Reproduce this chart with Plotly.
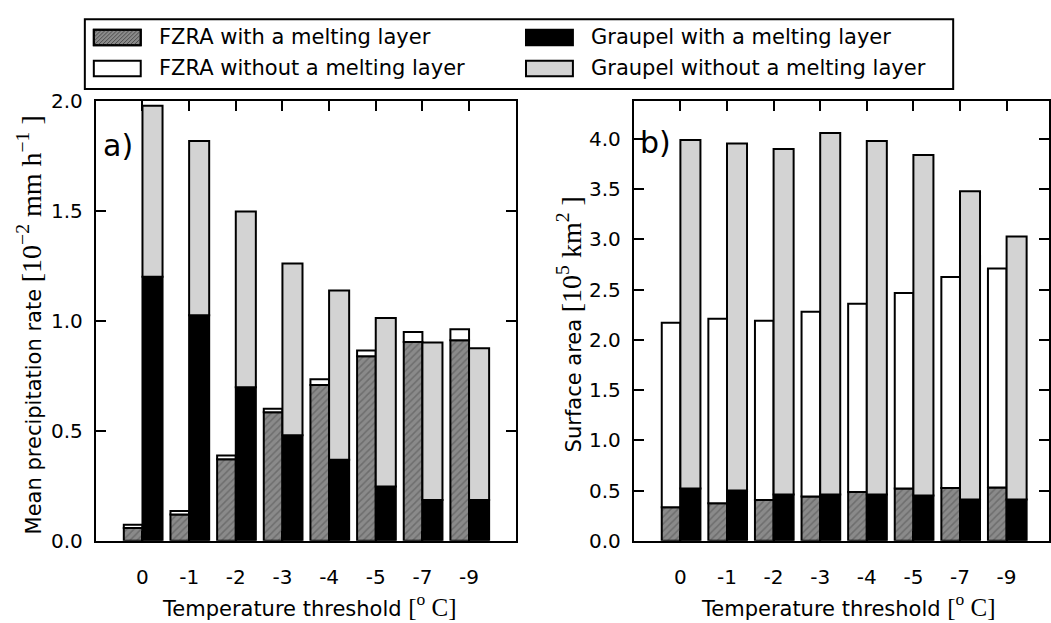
import plotly.graph_objects as go

# ---------------- data ----------------
categories = ['0', '-1', '-2', '-3', '-4', '-5', '-7', '-9']

# panel a) mean precipitation rate [1e-2 mm/h]
a_fzra_with = [0.058, 0.119, 0.371, 0.584, 0.708, 0.839, 0.904, 0.911]
a_fzra_without = [0.015, 0.016, 0.017, 0.016, 0.026, 0.026, 0.045, 0.051]
a_graupel_with = [1.200, 1.025, 0.698, 0.480, 0.368, 0.247, 0.186, 0.186]
a_graupel_without = [0.777, 0.792, 0.799, 0.780, 0.770, 0.766, 0.715, 0.689]

# panel b) surface area [1e5 km2]
b_fzra_with = [0.335, 0.373, 0.405, 0.440, 0.485, 0.520, 0.525, 0.530]
b_fzra_without = [1.835, 1.837, 1.785, 1.840, 1.875, 1.946, 2.100, 2.180]
b_graupel_with = [0.520, 0.500, 0.460, 0.460, 0.460, 0.450, 0.410, 0.410]
b_graupel_without = [3.470, 3.455, 3.440, 3.600, 3.520, 3.390, 3.070, 2.620]

legend_labels = ['FZRA with a melting layer', 'Graupel with a melting layer',
                 'FZRA without a melting layer', 'Graupel without a melting layer']

# ---------------- styling ----------------
W, H = 1051, 623
FONT = 'DejaVu Sans'
SERIF = 'Liberation Serif'
HATCH_BG = '#8a8a8a'
HATCH_FG = '#4f4f4f'
LIGHT = '#d3d3d3'
EDGE = dict(color='black', width=2)
TXT = 21
TICK = 20
NB = '\u00a0'


def px(x):
    return x / W


def py(y):
    return 1 - y / H


xpos = list(range(len(categories)))

fig = go.Figure()


def add_panel(xa, ya, fw, fwo, gw, gwo):
    hatch = dict(shape='/', fgcolor=HATCH_FG, bgcolor=HATCH_BG, size=5, solidity=0.3)
    fig.add_trace(go.Bar(x=xpos, y=fw, base=[0] * len(fw), offset=-0.4, width=0.4,
                         marker=dict(color=HATCH_BG, pattern=hatch, line=EDGE),
                         xaxis=xa, yaxis=ya, showlegend=False))
    fig.add_trace(go.Bar(x=xpos, y=fwo, base=fw, offset=-0.4, width=0.4,
                         marker=dict(color='white', line=EDGE),
                         xaxis=xa, yaxis=ya, showlegend=False))
    fig.add_trace(go.Bar(x=xpos, y=gw, base=[0] * len(gw), offset=0, width=0.43,
                         marker=dict(color='black', line=EDGE),
                         xaxis=xa, yaxis=ya, showlegend=False))
    fig.add_trace(go.Bar(x=xpos, y=gwo, base=gw, offset=0, width=0.43,
                         marker=dict(color=LIGHT, line=EDGE),
                         xaxis=xa, yaxis=ya, showlegend=False))


add_panel('x', 'y', a_fzra_with, a_fzra_without, a_graupel_with, a_graupel_without)
add_panel('x2', 'y2', b_fzra_with, b_fzra_without, b_graupel_with, b_graupel_without)

ydom = [py(550), py(92.3)]
axis_common = dict(showline=True, linewidth=2, linecolor='black', mirror='ticks',
                   ticks='inside', ticklen=10, tickwidth=1.5, tickcolor='black',
                   showgrid=False, zeroline=False,
                   tickfont=dict(family=FONT, size=TICK, color='black'))

fig.update_layout(
    width=W, height=H,
    margin=dict(l=0, r=0, t=0, b=0),
    paper_bgcolor='white', plot_bgcolor='white',
    barmode='overlay',
    showlegend=False,
    xaxis=dict(domain=[px(96), px(516.7)], range=[-1, 8], tickvals=xpos,
               ticktext=categories, anchor='y', ticklabelstandoff=17, **axis_common),
    yaxis=dict(domain=ydom, range=[0, 2.0], tickvals=[0, 0.5, 1.0, 1.5, 2.0],
               tickformat='.1f', anchor='x', ticklabelstandoff=7, **axis_common),
    xaxis2=dict(domain=[px(635), 1.0], range=[-1, 7.91], tickvals=xpos,
                ticktext=categories, anchor='y2', ticklabelstandoff=17, **axis_common),
    yaxis2=dict(domain=ydom, range=[0, 4.38], tickvals=[0, 0.5, 1, 1.5, 2, 2.5, 3, 3.5, 4],
                tickformat='.1f', anchor='x2', ticklabelstandoff=7, **axis_common),
)

ann = []
# panel labels
ann.append(dict(text='a)', x=px(101), y=py(139), xref='paper', yref='paper',
                xanchor='left', yanchor='middle', showarrow=False,
                font=dict(family=FONT, size=30, color='black')))
ann.append(dict(text='b)', x=px(639), y=py(136), xref='paper', yref='paper',
                xanchor='left', yanchor='middle', showarrow=False,
                font=dict(family=FONT, size=30, color='black')))
# axis titles
SERX = "<span style='font-family:%s;font-size:25px'>" % SERIF
SERY = "<span style='font-family:%s;font-size:28px'>" % SERIF
xtitle = "Temperature threshold " + SERX + "[<sup>o</sup>" + NB + "C]</span>"
for cx in (310, 850):
    ann.append(dict(text=xtitle, x=px(cx), y=py(617), xref='paper', yref='paper',
                    xanchor='center', yanchor='middle', showarrow=False,
                    font=dict(family=FONT, size=TXT, color='black')))
ann.append(dict(text="Mean precipitation rate " + SERY + "[10<sup>\u22122</sup>" + NB + "mm" + NB + "h<sup>\u22121</sup>" + NB + "]</span>",
                x=px(30), y=py(325), xref='paper', yref='paper', textangle=-90,
                xanchor='center', yanchor='middle', showarrow=False,
                font=dict(family=FONT, size=TXT, color='black')))
ann.append(dict(text="Surface area " + SERY + "[10<sup>5</sup>" + NB + "km<sup>2</sup>" + NB + "]</span>",
                x=px(571), y=py(325), xref='paper', yref='paper', textangle=-90,
                xanchor='center', yanchor='middle', showarrow=False,
                font=dict(family=FONT, size=TXT, color='black')))

# ---------------- manual legend ----------------
shapes = []
shapes.append(dict(type='rect', xref='paper', yref='paper', x0=px(85), x1=px(955),
                   y0=py(80), y1=py(7.5), line=dict(color='black', width=2),
                   fillcolor='white', layer='above'))
sym_x = [94, 527, 94, 527]
sym_y = [18.5, 18.5, 50.7, 50.7]
sym_fill = [HATCH_BG, 'black', 'white', LIGHT]
for i, lab in enumerate(legend_labels):
    x0, y0 = sym_x[i], sym_y[i]
    x1, y1 = x0 + 47, y0 + 16
    shapes.append(dict(type='rect', xref='paper', yref='paper', x0=px(x0), x1=px(x1),
                       y0=py(y1), y1=py(y0), line=dict(color='black', width=2),
                       fillcolor=sym_fill[i], layer='above'))
    if i == 0:
        # hatch lines for the swatch
        step = 4
        h = y1 - y0
        k = -h
        while k < (x1 - x0):
            ax, ay = x0 + k, y1
            bx, by = x0 + k + h, y0
            if ax < x0:
                ay = y1 - (x0 - ax)
                ax = x0
            if bx > x1:
                by = y0 + (bx - x1)
                bx = x1
            if bx > ax:
                shapes.append(dict(type='line', xref='paper', yref='paper',
                                   x0=px(ax), y0=py(ay), x1=px(bx), y1=py(by),
                                   line=dict(color=HATCH_FG, width=1), layer='above'))
            k += step
        shapes.append(dict(type='rect', xref='paper', yref='paper', x0=px(x0), x1=px(x1),
                           y0=py(y1), y1=py(y0), line=dict(color='black', width=2),
                           fillcolor='rgba(0,0,0,0)', layer='above'))
    ann.append(dict(text=lab, x=px(x0 + 63), y=py(y0 + 8), xref='paper', yref='paper',
                    xanchor='left', yanchor='middle', showarrow=False,
                    font=dict(family=FONT, size=TXT, color='black')))

fig.update_layout(annotations=ann, shapes=shapes)

fig.write_html('out.html')
